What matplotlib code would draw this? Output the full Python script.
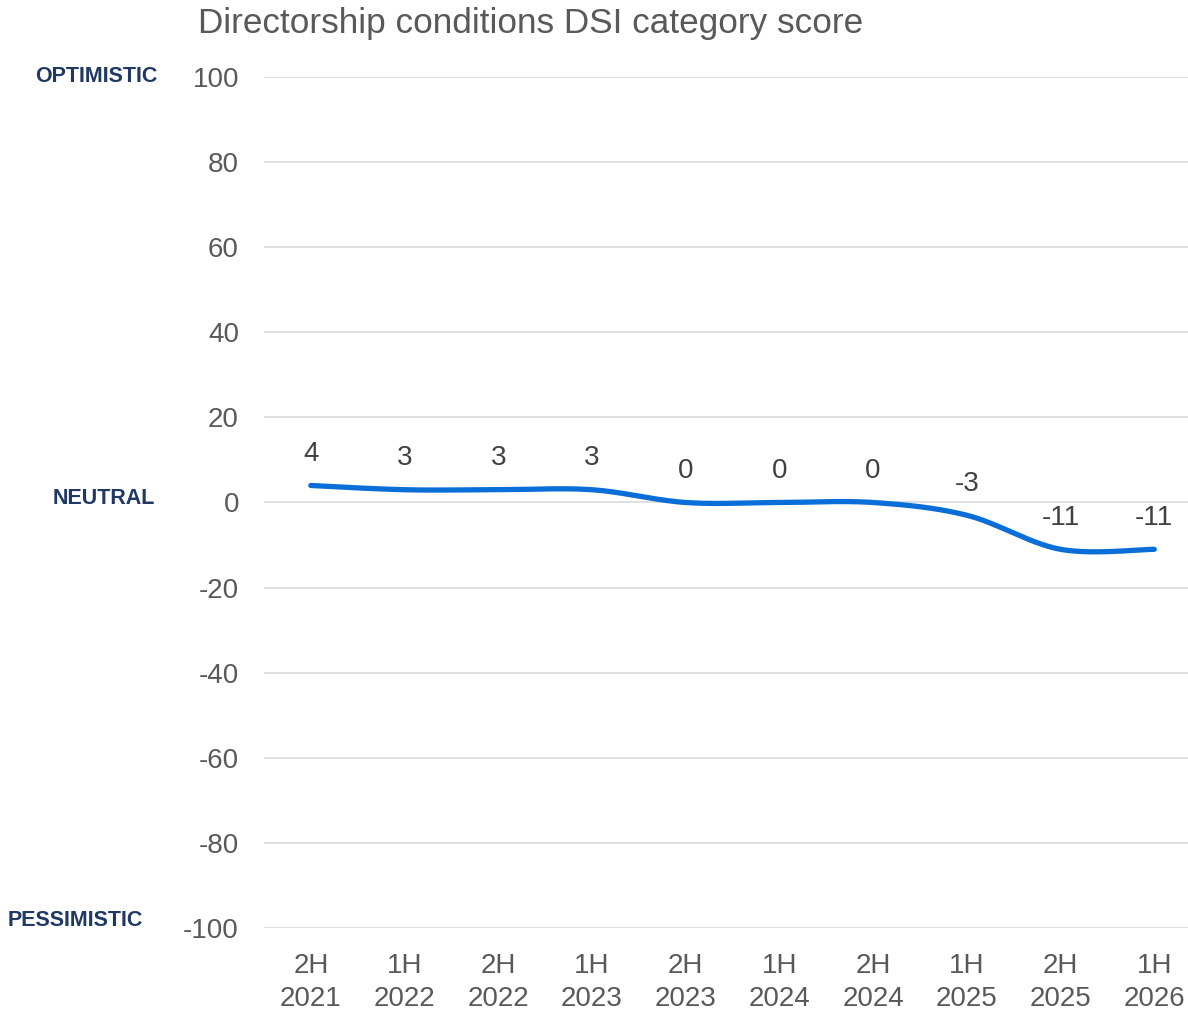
#!/usr/bin/env python3

import numpy as np
import matplotlib.pyplot as plt

# data
periods = ["2H\n2021", "1H\n2022", "2H\n2022", "1H\n2023", "2H\n2023",
           "1H\n2024", "2H\n2024", "1H\n2025", "2H\n2025", "1H\n2026"]
scores = [4, 3, 3, 3, 0, 0, 0, -3, -11, -11]
yticks = [100, 80, 60, 40, 20, 0, -20, -40, -60, -80, -100]
side_labels = ["OPTIMISTIC", "NEUTRAL", "PESSIMISTIC"]

gray = "#595959"
navy = "#1F3864"
blue = "#0A6ED8"
plt.rcParams["font.family"] = ["Liberation Sans", "DejaVu Sans"]
plt.rcParams["axes.unicode_minus"] = False


def smooth(xs, ys, n=40):
    # excel-like smoothed line: bezier segments with catmull-rom control points
    pts = np.column_stack([xs, ys]).astype(float)
    p = np.vstack([pts[0], pts, pts[-1]])
    out = []
    for i in range(1, len(p) - 2):
        p0, p1, p2, p3 = p[i - 1], p[i], p[i + 1], p[i + 2]
        c1 = p1 + (p2 - p0) / 6
        c2 = p2 - (p3 - p1) / 6
        t = np.linspace(0, 1, n)[:, None]
        seg = (1 - t) ** 3 * p1 + 3 * (1 - t) ** 2 * t * c1 + 3 * (1 - t) * t ** 2 * c2 + t ** 3 * p2
        out.append(seg if i == 1 else seg[1:])
    out = np.vstack(out)
    return out[:, 0], out[:, 1]


fig = plt.figure(figsize=(11.88, 10.13), dpi=100)
ax = fig.add_axes([0.2222, 0.0839, 0.7778, 0.8401])

x = np.arange(len(periods))
sx, sy = smooth(x, scores)
ax.plot(sx, sy, color=blue, lw=3.8, solid_capstyle="round", zorder=3)

for xi, v in zip(x, scores):
    ax.annotate(str(v), (xi, v), xytext=(0, 22.5), textcoords="offset points",
                ha="center", va="center", fontsize=20, color="#404040")

ax.set_ylim(-100, 100)
ax.set_xlim(-0.5, 9.36)
ax.set_yticks(yticks)
ax.set_xticks(x)
ax.set_xticklabels(periods, linespacing=1.33)
ax.grid(axis="y", color="#D9D9D9", lw=1.2)
ax.set_axisbelow(True)
for s in ax.spines.values():
    s.set_visible(False)
ax.tick_params(axis="both", length=0, labelsize=20, labelcolor=gray)
ax.tick_params(axis="y", pad=18)
ax.tick_params(axis="x", pad=18)

fig.text(0.4466, 1 - 23 / 1013, "Directorship conditions DSI category score",
         ha="center", va="center", fontsize=25.3, color=gray)

# right edge / vertical centre in pixels, as in the original layout
label_xy = [(157, 76), (155, 498), (143, 920)]
for name, (px, py) in zip(side_labels, label_xy):
    fig.text(px / 1188, 1 - py / 1013, name, ha="right", va="center",
             fontsize=15.5, fontweight="bold", color=navy)

fig.savefig("out.png", dpi=100)
